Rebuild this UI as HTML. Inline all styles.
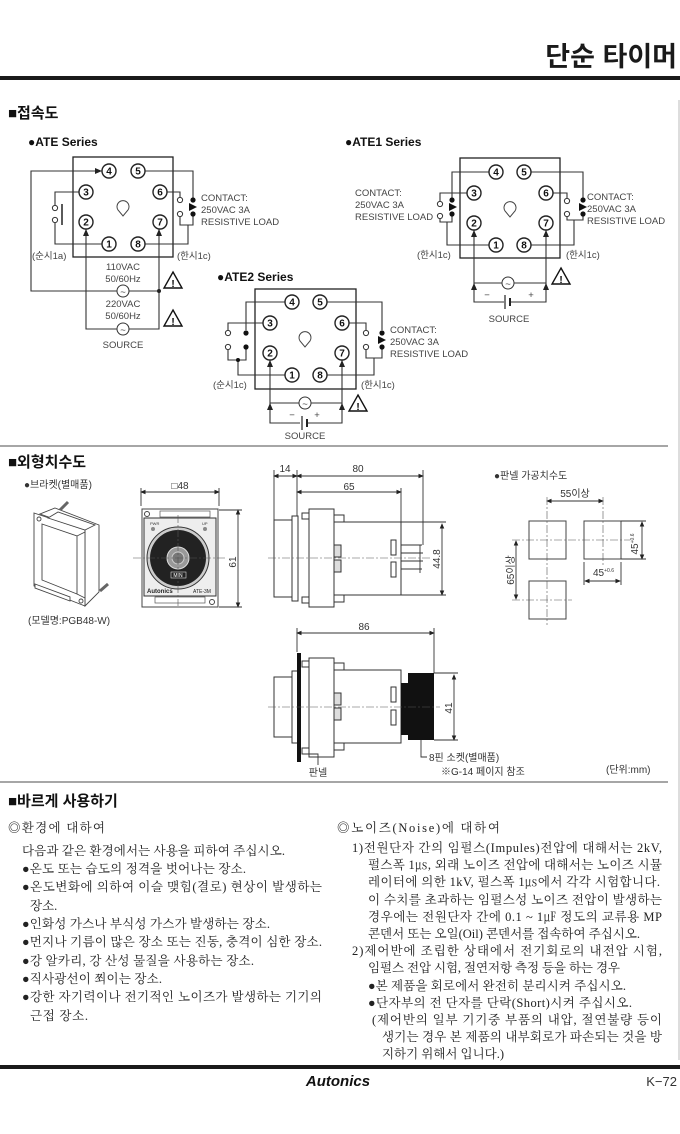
<!DOCTYPE html>
<html><head><meta charset="utf-8"><style>
html,body{margin:0;padding:0;background:#fff;}
svg{display:block;}
text{font-family:"Liberation Sans","Noto Sans CJK KR",sans-serif;}
.s{font-family:"Liberation Serif","Noto Serif CJK KR","Noto Serif CJK SC",serif;font-size:12.5px;fill:#222;}
.w{fill:none;stroke:#333;stroke-width:1.1;}
.t{fill:#fff;stroke:#222;stroke-width:1.4;}
.tn{font-size:10px;font-weight:bold;text-anchor:middle;fill:#111;}
.l{font-size:9.5px;fill:#444;}
.lc{font-size:9.5px;fill:#444;text-anchor:middle;}
.d{fill:none;stroke:#333;stroke-width:0.9;}
.c{fill:none;stroke:#555;stroke-width:0.6;stroke-dasharray:8 2 2 2;}
.dt{font-size:10px;fill:#333;}
</style></head><body>
<svg width="680" height="1134" viewBox="0 0 680 1134" xmlns="http://www.w3.org/2000/svg">
<defs>
<marker id="ar" markerWidth="6" markerHeight="6" refX="5" refY="3" orient="auto"><path d="M0,0 L6,3 L0,6 Z" fill="#222"/></marker>
<marker id="da" markerWidth="6" markerHeight="6" refX="5" refY="3" orient="auto-start-reverse"><path d="M0,0.5 L6,3 L0,5.5 Z" fill="#222"/></marker>
</defs>
<!-- header -->
<text x="677" y="66" text-anchor="end" font-size="27" font-weight="bold" fill="#1a1a1a">단순 타이머</text>
<rect x="0" y="76" width="680" height="4" fill="#1a1a1a"/>
<line x1="679" y1="100" x2="679" y2="1060" stroke="#bbb" stroke-width="1"/>

<!-- section 1 -->
<text x="8" y="118" font-size="15" font-weight="bold" fill="#111">■접속도</text>
<text x="28" y="146" font-size="12" font-weight="bold" fill="#111">●ATE Series</text>
<text x="345" y="146" font-size="12" font-weight="bold" fill="#111">●ATE1 Series</text>
<text x="217" y="281" font-size="12" font-weight="bold" fill="#111">●ATE2 Series</text>

<!-- ATE -->
<g>
<rect x="73" y="157" width="100" height="100" fill="none" stroke="#222" stroke-width="1.3"/>
<path class="w" d="M102,171 H31 V291 H159" /><path d="M95,168 L102,171 L95,174Z" fill="#222"/>
<path class="w" d="M79,192 H55 V205 M55,223 V244 H102"/>
<circle cx="55" cy="208" r="2.6" fill="#fff" stroke="#333"/><circle cx="55" cy="220" r="2.6" fill="#fff" stroke="#333"/>
<line x1="62" y1="204" x2="62" y2="225" stroke="#222" stroke-width="1.5"/>
<path class="w" d="M145,171 H193 V198 M167,192 H180 V197 M180,217 V225 H193 V216 M145,244 H188 V225"/>
<circle cx="180" cy="200" r="2.6" fill="#fff" stroke="#333"/><circle cx="180" cy="214" r="2.6" fill="#fff" stroke="#333"/>
<circle cx="193" cy="200" r="2.6" fill="#111"/><circle cx="193" cy="214" r="2.6" fill="#111"/>
<path d="M189,203 L197,207 L189,211Z" fill="#111"/>
<path class="w" d="M86,229 V329 H159 V229"/>
<path d="M83,236 L86,229 L89,236Z" fill="#222"/><path d="M156,236 L159,229 L162,236Z" fill="#222"/>
<circle cx="159" cy="291" r="2" fill="#222"/>
<circle cx="123" cy="291" r="6" fill="#fff" stroke="#333"/><text x="123" y="295" class="lc">~</text>
<circle cx="123" cy="329" r="6" fill="#fff" stroke="#333"/><text x="123" y="333" class="lc">~</text>
<circle class="t" cx="109" cy="171" r="7"/><text class="tn" x="109" y="174.5">4</text>
<circle class="t" cx="138" cy="171" r="7"/><text class="tn" x="138" y="174.5">5</text>
<circle class="t" cx="86" cy="192" r="7"/><text class="tn" x="86" y="195.5">3</text>
<circle class="t" cx="160" cy="192" r="7"/><text class="tn" x="160" y="195.5">6</text>
<circle class="t" cx="86" cy="222" r="7"/><text class="tn" x="86" y="225.5">2</text>
<circle class="t" cx="160" cy="222" r="7"/><text class="tn" x="160" y="225.5">7</text>
<circle class="t" cx="109" cy="244" r="7"/><text class="tn" x="109" y="247.5">1</text>
<circle class="t" cx="138" cy="244" r="7"/><text class="tn" x="138" y="247.5">8</text>
<path d="M118,210 A6,6 0 1 1 128,210 L123,216 Z" fill="#fff" stroke="#444"/>
<text class="l" x="201" y="201">CONTACT:</text><text class="l" x="201" y="213">250VAC 3A</text><text class="l" x="201" y="225">RESISTIVE LOAD</text>
<text class="l" x="32" y="259">(순시1a)</text><text class="l" x="177" y="259">(한시1c)</text>
<text class="lc" x="123" y="270">110VAC</text><text class="lc" x="123" y="282">50/60Hz</text>
<text class="lc" x="123" y="307">220VAC</text><text class="lc" x="123" y="319">50/60Hz</text>
<text class="lc" x="123" y="348">SOURCE</text>
<path d="M173,272 L182,288 L164,288Z" fill="#fff" stroke="#111" stroke-width="1.4"/><text x="173" y="287" font-size="10" font-weight="bold" text-anchor="middle">!</text>
<path d="M173,310 L182,326 L164,326Z" fill="#fff" stroke="#111" stroke-width="1.4"/><text x="173" y="325" font-size="10" font-weight="bold" text-anchor="middle">!</text>
</g>

<!-- ATE1 -->
<g>
<rect x="460" y="158" width="100" height="100" fill="none" stroke="#222" stroke-width="1.3"/>
<path class="w" d="M489,172 H452 V198 M467,193 H440 V201 M440,219 V222 H452 V216 M489,245 H447 V222"/>
<circle cx="440" cy="204" r="2.6" fill="#fff" stroke="#333"/><circle cx="440" cy="216" r="2.6" fill="#fff" stroke="#333"/>
<circle cx="452" cy="200" r="2.6" fill="#111"/><circle cx="452" cy="214" r="2.6" fill="#111"/>
<path d="M449,203 L457,207 L449,211Z" fill="#111"/>
<path class="w" d="M531,172 H583 V198 M553,193 H567 V198 M567,217 V220 H583 V216 M531,245 H574 V220"/>
<circle cx="567" cy="201" r="2.6" fill="#fff" stroke="#333"/><circle cx="567" cy="214" r="2.6" fill="#fff" stroke="#333"/>
<circle cx="583" cy="200" r="2.6" fill="#111"/><circle cx="583" cy="214" r="2.6" fill="#111"/>
<path d="M579,203 L587,207 L579,211Z" fill="#111"/>
<path class="w" d="M474,230 V302 H504 M546,230 V302 H511 M474,283 H546"/>
<line x1="505" y1="295" x2="505" y2="309" stroke="#222" stroke-width="1.2"/><line x1="510" y1="298" x2="510" y2="306" stroke="#222" stroke-width="2"/>
<path d="M471,237 L474,230 L477,237Z" fill="#222"/><path d="M543,237 L546,230 L549,237Z" fill="#222"/>
<path d="M471,290 L474,283 L477,290Z" fill="#222"/><path d="M543,290 L546,283 L549,290Z" fill="#222"/>
<circle cx="508" cy="283" r="6" fill="#fff" stroke="#333"/><text x="508" y="287" class="lc">~</text>
<circle class="t" cx="496" cy="172" r="7"/><text class="tn" x="496" y="175.5">4</text>
<circle class="t" cx="524" cy="172" r="7"/><text class="tn" x="524" y="175.5">5</text>
<circle class="t" cx="474" cy="193" r="7"/><text class="tn" x="474" y="196.5">3</text>
<circle class="t" cx="546" cy="193" r="7"/><text class="tn" x="546" y="196.5">6</text>
<circle class="t" cx="474" cy="223" r="7"/><text class="tn" x="474" y="226.5">2</text>
<circle class="t" cx="546" cy="223" r="7"/><text class="tn" x="546" y="226.5">7</text>
<circle class="t" cx="496" cy="245" r="7"/><text class="tn" x="496" y="248.5">1</text>
<circle class="t" cx="524" cy="245" r="7"/><text class="tn" x="524" y="248.5">8</text>
<path d="M505,211 A6,6 0 1 1 515,211 L510,217 Z" fill="#fff" stroke="#444"/>
<text class="l" x="355" y="196">CONTACT:</text><text class="l" x="355" y="208">250VAC 3A</text><text class="l" x="355" y="220">RESISTIVE LOAD</text>
<text class="l" x="587" y="200">CONTACT:</text><text class="l" x="587" y="212">250VAC 3A</text><text class="l" x="587" y="224">RESISTIVE LOAD</text>
<text class="l" x="417" y="258">(한시1c)</text><text class="l" x="566" y="258">(한시1c)</text>
<text class="lc" x="487" y="298">−</text><text class="lc" x="531" y="298">+</text>
<text class="lc" x="509" y="322">SOURCE</text>
<path d="M561,268 L570,284 L552,284Z" fill="#fff" stroke="#111" stroke-width="1.4"/><text x="561" y="283" font-size="10" font-weight="bold" text-anchor="middle">!</text>
</g>

<!-- ATE2 -->
<g>
<rect x="255" y="289" width="101" height="100" fill="none" stroke="#222" stroke-width="1.3"/>
<path class="w" d="M285,302 H246 V330 M263,323 H228 V330 M228,350 V360 H246 V349 M285,375 H238 V360"/>
<circle cx="228" cy="333" r="2.6" fill="#fff" stroke="#333"/><circle cx="228" cy="347" r="2.6" fill="#fff" stroke="#333"/>
<circle cx="246" cy="333" r="2.6" fill="#111"/><circle cx="246" cy="347" r="2.6" fill="#111"/>
<circle cx="238" cy="360" r="2" fill="#111"/>
<path class="w" d="M327,302 H382 V330 M349,323 H366 V330 M366,350 V358 H382 V349 M327,375 H374 V358"/>
<circle cx="366" cy="333" r="2.6" fill="#fff" stroke="#333"/><circle cx="366" cy="347" r="2.6" fill="#fff" stroke="#333"/>
<circle cx="382" cy="333" r="2.6" fill="#111"/><circle cx="382" cy="347" r="2.6" fill="#111"/>
<path d="M378,336 L386,340 L378,344Z" fill="#111"/>
<path class="w" d="M270,360 V423 H300 M342,360 V423 H308 M270,403 H342"/>
<line x1="302" y1="416" x2="302" y2="430" stroke="#222" stroke-width="1.2"/><line x1="307" y1="419" x2="307" y2="427" stroke="#222" stroke-width="2"/>
<path d="M267,367 L270,360 L273,367Z" fill="#222"/><path d="M339,367 L342,360 L345,367Z" fill="#222"/>
<path d="M267,410 L270,403 L273,410Z" fill="#222"/><path d="M339,410 L342,403 L345,410Z" fill="#222"/>
<circle cx="305" cy="403" r="6" fill="#fff" stroke="#333"/><text x="305" y="407" class="lc">~</text>
<circle class="t" cx="292" cy="302" r="7"/><text class="tn" x="292" y="305.5">4</text>
<circle class="t" cx="320" cy="302" r="7"/><text class="tn" x="320" y="305.5">5</text>
<circle class="t" cx="270" cy="323" r="7"/><text class="tn" x="270" y="326.5">3</text>
<circle class="t" cx="342" cy="323" r="7"/><text class="tn" x="342" y="326.5">6</text>
<circle class="t" cx="270" cy="353" r="7"/><text class="tn" x="270" y="356.5">2</text>
<circle class="t" cx="342" cy="353" r="7"/><text class="tn" x="342" y="356.5">7</text>
<circle class="t" cx="292" cy="375" r="7"/><text class="tn" x="292" y="378.5">1</text>
<circle class="t" cx="320" cy="375" r="7"/><text class="tn" x="320" y="378.5">8</text>
<path d="M300,341 A6,6 0 1 1 310,341 L305,347 Z" fill="#fff" stroke="#444"/>
<text class="l" x="390" y="333">CONTACT:</text><text class="l" x="390" y="345">250VAC 3A</text><text class="l" x="390" y="357">RESISTIVE LOAD</text>
<text class="l" x="213" y="388">(순시1c)</text><text class="l" x="361" y="388">(한시1c)</text>
<text class="lc" x="292" y="418">−</text><text class="lc" x="317" y="418">+</text>
<text class="lc" x="305" y="439">SOURCE</text>
<path d="M358,395 L367,411 L349,411Z" fill="#fff" stroke="#111" stroke-width="1.4"/><text x="358" y="410" font-size="10" font-weight="bold" text-anchor="middle">!</text>
</g>

<line x1="0" y1="446" x2="668" y2="446" stroke="#888" stroke-width="1.5"/>

<!-- section 2 -->
<text x="8" y="467" font-size="15" font-weight="bold" fill="#111">■외형치수도</text>
<text x="24" y="488" font-size="10" fill="#333">●브라켓(별매품)</text>
<!-- bracket -->
<g fill="#fff" stroke="#444" stroke-width="0.9">
<polygon points="55,508 99,525 99,592 85,606 85,530 40,514"/>
<polygon points="34,513 85,530 85,606 34,586"/>
<polygon points="42,524 77,536 77,594 42,580" />
<polygon points="48,518 85,530 95,525 58,512"/>
<line x1="77" y1="536" x2="85" y2="532"/><line x1="77" y1="594" x2="85" y2="598"/>
<polygon points="35,584 70,597 70,601 35,588"/>
<circle cx="39" cy="519" r="2"/><circle cx="81" cy="601" r="2"/>
<path d="M60,510 L68,502" stroke-width="3" stroke="#666"/>
<path d="M100,591 L108,584" stroke-width="3" stroke="#666"/>
</g>
<text x="28" y="624" font-size="10" fill="#333">(모델명:PGB48-W)</text>
<!-- front view -->
<line class="d" x1="141" y1="492" x2="219" y2="492" marker-start="url(#da)" marker-end="url(#da)"/>
<line class="d" x1="141" y1="488" x2="141" y2="506"/><line class="d" x1="219" y1="488" x2="219" y2="506"/>
<text class="dt" x="180" y="489" text-anchor="middle">□48</text>
<rect x="142" y="509" width="76" height="98" fill="#fff" stroke="#444"/>
<rect x="144" y="518" width="72" height="78" fill="#eee" stroke="#333"/>
<rect x="160" y="511" width="50" height="6" fill="none" stroke="#555" stroke-width="0.7"/>
<rect x="155" y="597" width="50" height="6" fill="none" stroke="#555" stroke-width="0.7"/>
<circle cx="147" cy="514" r="2.5" fill="none" stroke="#444"/><circle cx="212" cy="602" r="2.5" fill="none" stroke="#444"/>
<circle cx="178" cy="558" r="31" fill="#ccc" stroke="#333"/>
<circle cx="178" cy="558" r="28" fill="#222"/>
<circle cx="178" cy="558" r="11" fill="#999" stroke="#ddd"/><circle cx="178" cy="558" r="6" fill="#777" stroke="#ccc"/>
<rect x="171" y="572" width="15" height="6" fill="#222" stroke="#ddd" stroke-width="0.6"/>
<text x="178" y="577" font-size="5" fill="#fff" text-anchor="middle">MIN</text>
<circle cx="153" cy="529" r="2" fill="#888"/><circle cx="205" cy="529" r="2" fill="#888"/>
<text x="150" y="525" font-size="4" fill="#333">PWR</text><text x="202" y="525" font-size="4" fill="#333">UP</text>
<text x="147" y="593" font-size="6" font-weight="bold" fill="#222">Autonics</text><text x="193" y="593" font-size="5" fill="#222">ATE-3M</text>
<line class="c" x1="133" y1="558" x2="226" y2="558"/><line class="c" x1="178" y1="515" x2="178" y2="606"/>
<line class="d" x1="238" y1="510" x2="238" y2="607" marker-start="url(#da)" marker-end="url(#da)"/>
<line class="d" x1="219" y1="510" x2="242" y2="510"/><line class="d" x1="219" y1="607" x2="242" y2="607"/>
<text class="dt" x="0" y="0" transform="translate(236,562) rotate(-90)" text-anchor="middle">61</text>
<!-- side view -->
<line class="d" x1="274" y1="476" x2="297" y2="476" marker-start="url(#da)" marker-end="url(#da)"/>
<line class="d" x1="297" y1="476" x2="423" y2="476" marker-start="url(#da)" marker-end="url(#da)"/>
<line class="d" x1="297" y1="492" x2="401" y2="492" marker-start="url(#da)" marker-end="url(#da)"/>
<line class="d" x1="274" y1="470" x2="274" y2="520"/><line class="d" x1="297" y1="470" x2="297" y2="520"/>
<line class="d" x1="423" y1="470" x2="423" y2="545"/><line class="d" x1="401" y1="488" x2="401" y2="522"/>
<text class="dt" x="285" y="472" text-anchor="middle">14</text><text class="dt" x="358" y="472" text-anchor="middle">80</text><text class="dt" x="349" y="490" text-anchor="middle">65</text>
<rect x="274" y="520" width="18" height="77" fill="#fff" stroke="#333"/>
<rect x="292" y="516" width="6" height="85" fill="#fff" stroke="#333"/>
<rect x="309" y="509" width="25" height="98" fill="#fff" stroke="#333"/>
<rect x="302" y="513" width="7" height="6" fill="#fff" stroke="#333"/><rect x="302" y="597" width="7" height="6" fill="#fff" stroke="#333"/>
<rect x="334" y="522" width="67" height="73" fill="#fff" stroke="#333"/>
<rect x="334" y="515" width="10" height="7" fill="#fff" stroke="#333"/><rect x="334" y="595" width="10" height="7" fill="#fff" stroke="#333"/>
<rect x="334" y="545" width="7" height="12" fill="#ddd" stroke="#333"/><rect x="334" y="560" width="7" height="12" fill="#ddd" stroke="#333"/>
<rect x="391" y="540" width="5" height="15" fill="#fff" stroke="#333"/><rect x="391" y="562" width="5" height="15" fill="#fff" stroke="#333"/>
<path class="d" d="M401,545 H422 M401,553 H423 M401,561 H423 M401,569 H422 M420,545 V573"/>
<line class="c" x1="268" y1="558" x2="430" y2="558"/>
<line class="d" x1="442" y1="524" x2="442" y2="595" marker-start="url(#da)" marker-end="url(#da)"/>
<line class="d" x1="401" y1="522" x2="446" y2="522"/><line class="d" x1="401" y1="595" x2="446" y2="595"/>
<text class="dt" x="0" y="0" transform="translate(440,559) rotate(-90)" text-anchor="middle">44.8</text>
<!-- lower side view -->
<line class="d" x1="297" y1="633" x2="434" y2="633" marker-start="url(#da)" marker-end="url(#da)"/>
<line class="d" x1="297" y1="628" x2="297" y2="652"/><line class="d" x1="434" y1="628" x2="434" y2="673"/>
<text class="dt" x="364" y="630" text-anchor="middle">86</text>
<rect x="274" y="677" width="18" height="60" fill="#fff" stroke="#333"/>
<rect x="292" y="671" width="6" height="72" fill="#fff" stroke="#333"/>
<rect x="297" y="653" width="4" height="109" fill="#111"/>
<rect x="309" y="658" width="25" height="99" fill="#fff" stroke="#333"/>
<rect x="302" y="661" width="7" height="6" fill="#fff" stroke="#333"/><rect x="302" y="748" width="7" height="6" fill="#fff" stroke="#333"/>
<rect x="334" y="670" width="67" height="73" fill="#fff" stroke="#333"/>
<rect x="334" y="663" width="10" height="7" fill="#fff" stroke="#333"/><rect x="334" y="743" width="10" height="7" fill="#fff" stroke="#333"/>
<rect x="334" y="693" width="7" height="12" fill="#ddd" stroke="#333"/><rect x="334" y="708" width="7" height="12" fill="#ddd" stroke="#333"/>
<rect x="391" y="687" width="5" height="15" fill="#fff" stroke="#333"/><rect x="391" y="710" width="5" height="15" fill="#fff" stroke="#333"/>
<rect x="401" y="683" width="8" height="52" fill="#111"/>
<rect x="408" y="673" width="26" height="67" fill="#111"/>
<line class="c" x1="268" y1="707" x2="440" y2="707"/>
<line class="d" x1="454" y1="675" x2="454" y2="740" marker-start="url(#da)" marker-end="url(#da)"/>
<line class="d" x1="434" y1="673" x2="458" y2="673"/><line class="d" x1="434" y1="740" x2="458" y2="740"/>
<text class="dt" x="0" y="0" transform="translate(452,708) rotate(-90)" text-anchor="middle">41</text>
<path class="d" d="M302,754 H318 V765"/><text class="dt" x="318" y="776" text-anchor="middle">판넬</text>
<path class="d" d="M421,740 V757 H427"/>
<text class="dt" x="429" y="761">8핀 소켓(별매품)</text>
<text class="dt" x="441" y="775">※G-14 페이지 참조</text>
<text class="dt" x="606" y="773">(단위:mm)</text>
<!-- panel cutout -->
<text class="dt" x="494" y="479">●판넬 가공치수도</text>
<line class="d" x1="547" y1="501" x2="603" y2="501" marker-start="url(#da)" marker-end="url(#da)"/>
<text class="dt" x="575" y="497" text-anchor="middle">55이상</text>
<rect x="529" y="521" width="37" height="38" fill="#fff" stroke="#444"/>
<rect x="584" y="521" width="37" height="38" fill="#fff" stroke="#444"/>
<rect x="529" y="581" width="37" height="38" fill="#fff" stroke="#444"/>
<line class="c" x1="547" y1="497" x2="547" y2="625"/><line class="c" x1="603" y1="497" x2="603" y2="565"/>
<line class="c" x1="512" y1="540" x2="630" y2="540"/><line class="c" x1="512" y1="600" x2="572" y2="600"/>
<line class="d" x1="516" y1="541" x2="516" y2="599" marker-start="url(#da)" marker-end="url(#da)"/>
<text class="dt" x="0" y="0" transform="translate(514,570) rotate(-90)" text-anchor="middle">65이상</text>
<line class="d" x1="642" y1="522" x2="642" y2="559" marker-start="url(#da)" marker-end="url(#da)"/>
<line class="d" x1="621" y1="521" x2="646" y2="521"/><line class="d" x1="621" y1="559" x2="646" y2="559"/>
<text class="dt" x="0" y="0" transform="translate(638,544) rotate(-90)" text-anchor="middle">45<tspan font-size="5" dy="-4">+0.6</tspan></text>
<line class="d" x1="585" y1="581" x2="620" y2="581" marker-start="url(#da)" marker-end="url(#da)"/>
<line class="d" x1="584" y1="562" x2="584" y2="585"/><line class="d" x1="621" y1="562" x2="621" y2="585"/>
<text class="dt" x="593" y="576">45<tspan font-size="5" dy="-4">+0.6</tspan></text>

<line x1="0" y1="782" x2="668" y2="782" stroke="#888" stroke-width="1.5"/>

<!-- section 3 -->
<text x="8" y="806" font-size="15" font-weight="bold" fill="#111">■바르게 사용하기</text>
<text class="s" x="8" y="832" font-size="13" textLength="97">◎환경에 대하여</text>
<text class="s" x="22" y="855" textLength="263">다음과 같은 환경에서는 사용을 피하여 주십시오.</text>
<text class="s" x="22" y="873" textLength="224">●온도 또는 습도의 정격을 벗어나는 장소.</text>
<text class="s" x="22" y="891" textLength="300">●온도변화에 의하여 이슬 맺힘(결로) 현상이 발생하는</text>
<text class="s" x="30" y="910">장소.</text>
<text class="s" x="22" y="928" textLength="248">●인화성 가스나 부식성 가스가 발생하는 장소.</text>
<text class="s" x="22" y="946" textLength="300">●먼지나 기름이 많은 장소 또는 진동, 충격이 심한 장소.</text>
<text class="s" x="22" y="965" textLength="232">●강 알카리, 강 산성 물질을 사용하는 장소.</text>
<text class="s" x="22" y="983" textLength="140">●직사광선이 쬐이는 장소.</text>
<text class="s" x="22" y="1001" textLength="300">●강한 자기력이나 전기적인 노이즈가 발생하는 기기의</text>
<text class="s" x="30" y="1020" textLength="58">근접 장소.</text>

<text class="s" x="337" y="832" font-size="13" textLength="163">◎노이즈(Noise)에 대하여</text>
<text class="s" x="352" y="852" textLength="310">1)전원단자 간의 임펄스(Impules)전압에 대해서는 2kV,</text>
<text class="s" x="368" y="869" textLength="294">펄스폭 1㎲, 외래 노이즈 전압에 대해서는 노이즈 시뮬</text>
<text class="s" x="368" y="886" textLength="292">레이터에 의한 1kV, 펄스폭 1㎲에서 각각 시험합니다.</text>
<text class="s" x="368" y="904" textLength="294">이 수치를 초과하는 임펄스성 노이즈 전압이 발생하는</text>
<text class="s" x="368" y="921" textLength="294">경우에는 전원단자 간에 0.1 ~ 1㎌ 정도의 교류용 MP</text>
<text class="s" x="368" y="938" textLength="272">콘덴서 또는 오일(Oil) 콘덴서를 접속하여 주십시오.</text>
<text class="s" x="352" y="955" textLength="310">2)제어반에 조립한 상태에서 전기회로의 내전압 시험,</text>
<text class="s" x="368" y="972" textLength="252">임펄스 전압 시험, 절연저항 측정 등을 하는 경우</text>
<text class="s" x="368" y="990" textLength="258">●본 제품을 회로에서 완전히 분리시켜 주십시오.</text>
<text class="s" x="368" y="1007" textLength="264">●단자부의 전 단자를 단락(Short)시켜 주십시오.</text>
<text class="s" x="372" y="1024" textLength="290">(제어반의 일부 기기중 부품의 내압, 절연불량 등이</text>
<text class="s" x="382" y="1041" textLength="280">생기는 경우 본 제품의 내부회로가 파손되는 것을 방</text>
<text class="s" x="382" y="1058" textLength="122">지하기 위해서 입니다.)</text>

<!-- footer -->
<rect x="0" y="1065" width="680" height="4" fill="#1a1a1a"/>
<text x="338" y="1086" text-anchor="middle" font-size="15" font-weight="bold" font-style="italic" fill="#111">Autonics</text>
<text x="677" y="1086" text-anchor="end" font-size="13" fill="#333">K−72</text>
</svg>
</body></html>
